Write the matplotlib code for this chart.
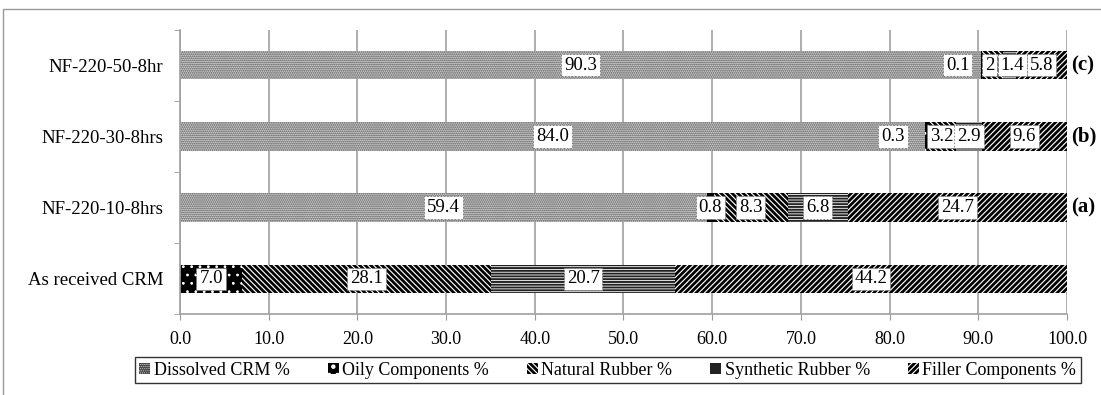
import numpy as np
import matplotlib.pyplot as plt
from matplotlib.patches import Rectangle

plt.rcParams['font.family'] = ['Liberation Serif', 'DejaVu Serif']

# data (bottom to top)
samples = ['As received CRM', 'NF-220-10-8hrs', 'NF-220-30-8hrs', 'NF-220-50-8hr']
tags = ['', '(a)', '(b)', '(c)']
components = ['Dissolved CRM %', 'Oily Components %', 'Natural Rubber %',
              'Synthetic Rubber %', 'Filler Components %']
dissolved = [0.0, 59.4, 84.0, 90.3]
oily = [7.0, 0.8, 0.3, 0.1]
natural = [28.1, 8.3, 3.2, 2.4]
synthetic = [20.7, 6.8, 2.9, 1.4]
filler = [44.2, 24.7, 9.6, 5.8]
values = [dissolved, oily, natural, synthetic, filler]
# labels as printed on the chart ('' = no label)
labels = [
    ['', '59.4', '84.0', '90.3'],
    ['7.0', '0.8', '0.3', '0.1'],
    ['28.1', '8.3', '3.2', '2'],
    ['20.7', '6.8', '2.9', '1.4'],
    ['44.2', '24.7', '9.6', '5.8'],
]

# styles per component
faces = ['#dadada', 'black', 'white', 'white', 'white']
edges = ['#4a4a4a', 'white', 'black', '#222222', 'black']
hatches = ['........', '..', '\\\\\\\\\\\\', '------', '//////']
hatch_lw = [0.9, 0.8, 2.0, 1.4, 2.0]
# small horizontal nudges (points) where labels would collide
nudge = {(1, 2): -24, (1, 3): -17, (2, 3): -2, (3, 3): 2}

fig = plt.figure(figsize=(11.01, 3.95), dpi=100)
ax = fig.add_axes([0.1635, 0.2038, 0.8056, 0.7215])

y = np.arange(len(samples))
left = np.zeros(len(samples))
handles = []
for i, comp in enumerate(components):
    plt.rcParams['hatch.linewidth'] = hatch_lw[i]
    bars = ax.barh(y, values[i], left=left, height=0.4, color=faces[i],
                   edgecolor=edges[i], hatch=hatches[i], linewidth=0,
                   label=comp, zorder=2)
    handles.append(bars)
    for j in range(len(samples)):
        if labels[i][j] == '':
            continue
        xc = left[j] + values[i][j] / 2
        ax.annotate(labels[i][j], (xc, y[j]), xytext=(nudge.get((i, j), 0), 0),
                    textcoords='offset points', ha='center', va='center',
                    fontsize=13.5, zorder=5,
                    bbox=dict(boxstyle='square,pad=0.15', fc='white',
                              ec='#777777', lw=0.6, ls=(0, (2, 2))))
    left += np.array(values[i])

for j, t in enumerate(tags):
    if t:
        ax.text(100.5, y[j], t, ha='left', va='center', fontsize=15,
                fontweight='bold', clip_on=False)

ax.set_xlim(0, 100)
ax.set_ylim(-0.5, len(samples) - 0.5)
ax.set_xticks(np.arange(0, 101, 10))
ax.set_xticklabels(['%.1f' % v for v in np.arange(0, 101, 10)], fontsize=13)
ax.set_yticks(y)
ax.set_yticklabels(samples, fontsize=13.5)
ax.set_yticks(np.arange(-0.5, len(samples), 1), minor=True)
ax.tick_params(axis='y', which='major', length=0, pad=12)
ax.tick_params(axis='y', which='minor', length=4, color='#999999')
ax.tick_params(axis='x', length=4, color='#999999', pad=8)
ax.grid(axis='x', color='#a0a0a0', lw=1.2, zorder=0)
for s in ['top', 'right']:
    ax.spines[s].set_visible(False)
for s in ['left', 'bottom']:
    ax.spines[s].set_color('#a0a0a0')
    ax.spines[s].set_linewidth(1.2)

leg = fig.legend(handles=handles, loc='center', bbox_to_anchor=(0.552, 0.063),
                 ncol=5, fontsize=13, frameon=True, fancybox=False,
                 handlelength=0.6, handleheight=0.6, handletextpad=0.2,
                 columnspacing=2.1, borderpad=0.25)
leg.get_frame().set_edgecolor('black')
leg.get_frame().set_linewidth(1.0)

# outer chart frame
fig.patches.append(Rectangle((3 / 1101, -0.05), 1.1, 1 - 9 / 395 + 0.05,
                             transform=fig.transFigure, fill=False,
                             ec='#999999', lw=1.0))

plt.savefig('out.png', dpi=100)
